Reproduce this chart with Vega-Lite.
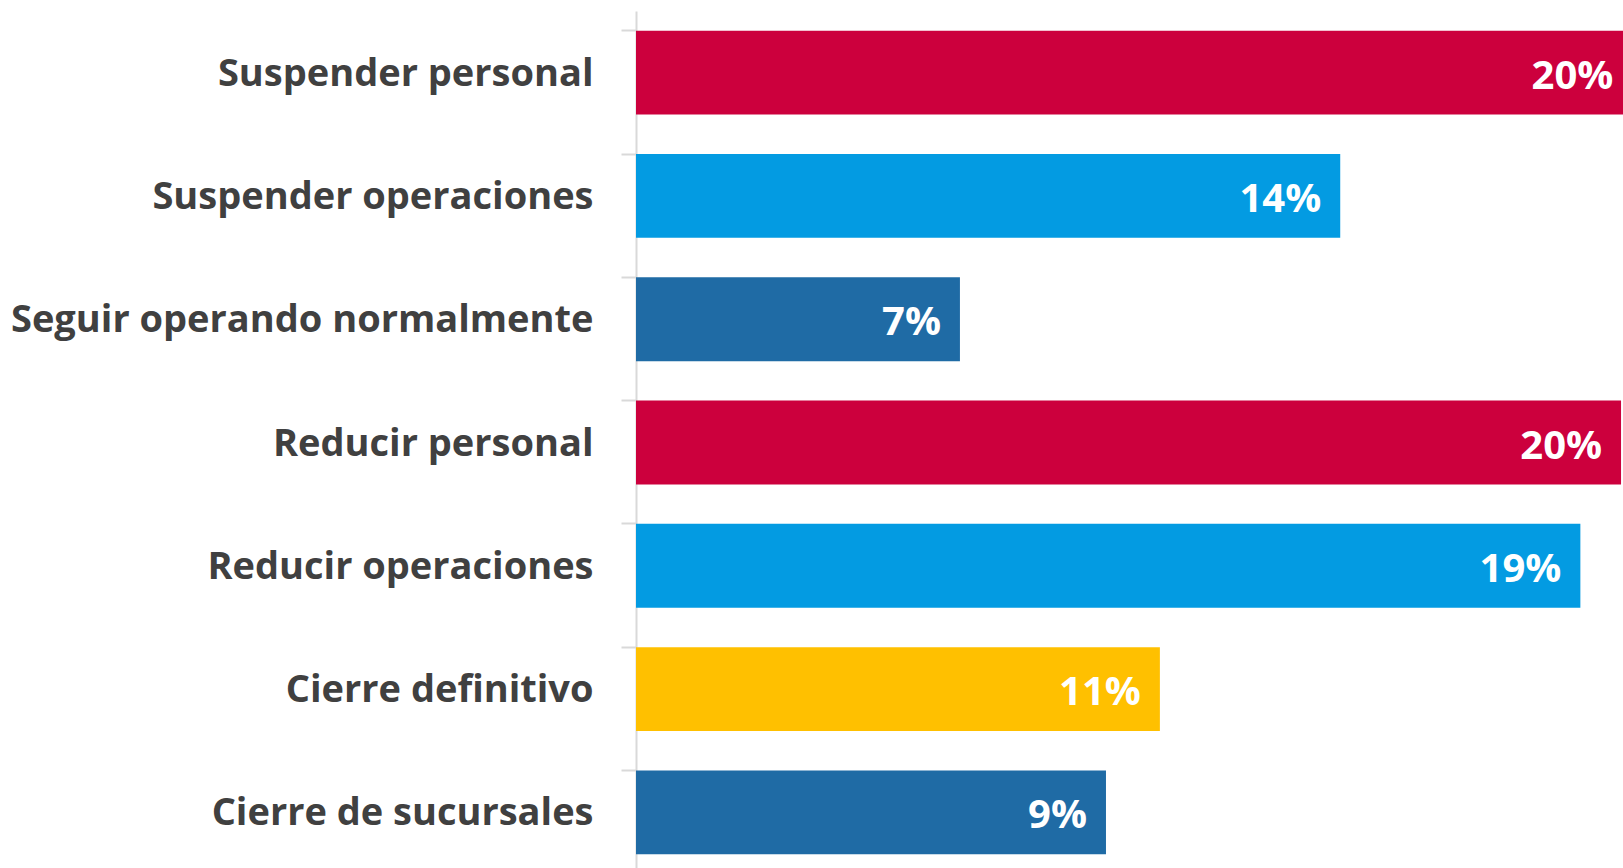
{
  "$schema": "https://vega.github.io/schema/vega-lite/v6.json",
  "autosize": {"type": "none"},
  "padding": {"left": 636, "top": 11, "right": 0, "bottom": 0},
  "width": 987,
  "height": 863,
  "background": "white",
  "data": {
    "values": [
      {"categoria": "Suspender personal", "valor": 20.33, "etiqueta": "20%", "grupo": "personal"},
      {"categoria": "Suspender operaciones", "valor": 14.37, "etiqueta": "14%", "grupo": "operaciones"},
      {"categoria": "Seguir operando normalmente", "valor": 6.61, "etiqueta": "7%", "grupo": "otro"},
      {"categoria": "Reducir personal", "valor": 20.1, "etiqueta": "20%", "grupo": "personal"},
      {"categoria": "Reducir operaciones", "valor": 19.27, "etiqueta": "19%", "grupo": "operaciones"},
      {"categoria": "Cierre definitivo", "valor": 10.69, "etiqueta": "11%", "grupo": "cierre"},
      {"categoria": "Cierre de sucursales", "valor": 9.59, "etiqueta": "9%", "grupo": "otro"}
    ]
  },
  "encoding": {
    "y": {
      "field": "categoria",
      "type": "nominal",
      "sort": null,
      "scale": {"paddingInner": 0.32, "paddingOuter": 0.16},
      "axis": {
        "title": null,
        "bandPosition": 0,
        "domainColor": "#d9d9d9",
        "domainWidth": 2,
        "tickColor": "#d9d9d9",
        "tickWidth": 2,
        "tickSize": 15,
        "labelPadding": 28,
        "labelOffset": 2,
        "labelFont": "Open Sans",
        "labelFontWeight": "bold",
        "labelFontSize": 38,
        "labelColor": "#404040",
        "labelLimit": 700
      }
    },
    "x": {
      "field": "valor",
      "type": "quantitative",
      "scale": {"domain": [0, 20.14], "nice": false},
      "axis": null
    }
  },
  "layer": [
    {
      "mark": {"type": "bar"},
      "encoding": {
        "color": {
          "field": "grupo",
          "type": "nominal",
          "scale": {
            "domain": ["personal", "operaciones", "otro", "cierre"],
            "range": ["#CC003D", "#039BE2", "#1F6BA5", "#FFC000"]
          },
          "legend": null
        }
      }
    },
    {
      "mark": {
        "type": "text",
        "align": "right",
        "baseline": "middle",
        "dx": -19,
        "dy": 4,
        "font": "Open Sans",
        "fontWeight": "bold",
        "fontSize": 40,
        "color": "white"
      },
      "encoding": {"text": {"field": "etiqueta"}}
    }
  ],
  "config": {"view": {"stroke": null}}
}
